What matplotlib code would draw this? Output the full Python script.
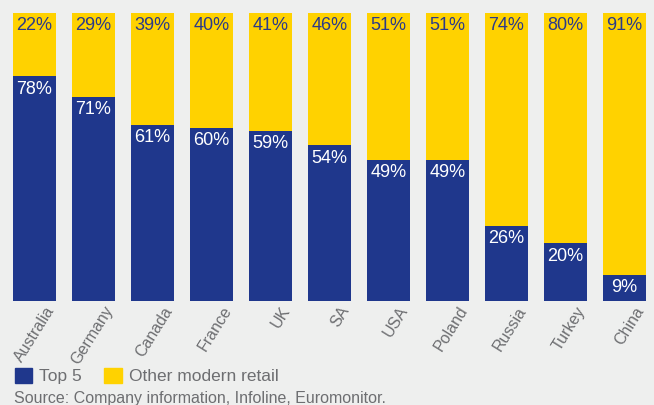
import matplotlib.pyplot as plt
import matplotlib.transforms as mtransforms
from matplotlib.patches import Patch

plt.rcParams['font.family'] = ['Liberation Sans', 'DejaVu Sans']

# Data
countries = ['Australia', 'Germany', 'Canada', 'France', 'UK', 'SA',
             'USA', 'Poland', 'Russia', 'Turkey', 'China']
top5 = [78, 71, 61, 60, 59, 54, 49, 49, 26, 20, 9]
other = [22, 29, 39, 40, 41, 46, 51, 51, 74, 80, 91]

blue = '#1f378c'
yellow = '#ffd200'
bg = '#eeefee'
grey = '#6d6e71'

fig = plt.figure(figsize=(6.54, 4.05), dpi=100, facecolor=bg)
ax = fig.add_axes([13 / 654, 1 - 301 / 405, 633 / 654, 288 / 405])
ax.set_facecolor(bg)

x = range(len(countries))
ax.bar(x, top5, width=0.73, color=blue)
ax.bar(x, other, width=0.73, bottom=top5, color=yellow)

# value labels at top of each segment
for i in x:
    ax.annotate(f'{top5[i]}%', (i, top5[i]), xytext=(0, -3), textcoords='offset points',
                ha='center', va='top', color='white', fontsize=13)
    ax.annotate(f'{other[i]}%', (i, 100), xytext=(0, -3), textcoords='offset points',
                ha='center', va='top', color='#2b3a8a', fontsize=13)

ax.set_xlim(-0.365, len(countries) - 1 + 0.365)
ax.set_ylim(0, 100)
ax.set_xticks(list(x))
ax.set_xticklabels(countries, rotation=58, ha='right', va='top', rotation_mode='anchor',
                   color=grey, fontsize=11.5)
ax.tick_params(axis='x', length=0, pad=2)
offset = mtransforms.ScaledTranslation(0.1, 0, fig.dpi_scale_trans)
for lab in ax.get_xticklabels():
    lab.set_transform(lab.get_transform() + offset)
ax.set_yticks([])
for s in ax.spines.values():
    s.set_visible(False)

handles = [Patch(color=blue, label='Top 5'), Patch(color=yellow, label='Other modern retail')]
leg = fig.legend(handles=handles, loc='lower left', bbox_to_anchor=(0.012, 0.034), ncol=2,
                 frameon=False, fontsize=12.5, handlelength=1.0, handleheight=1.0,
                 handletextpad=0.4, columnspacing=1.3, borderaxespad=0)
for t in leg.get_texts():
    t.set_color(grey)

fig.text(14 / 654, 1 - 391 / 405, 'Source: Company information, Infoline, Euromonitor.',
         color=grey, fontsize=11.5, va='top', ha='left')

plt.savefig('out.png', dpi=100, facecolor=bg)
